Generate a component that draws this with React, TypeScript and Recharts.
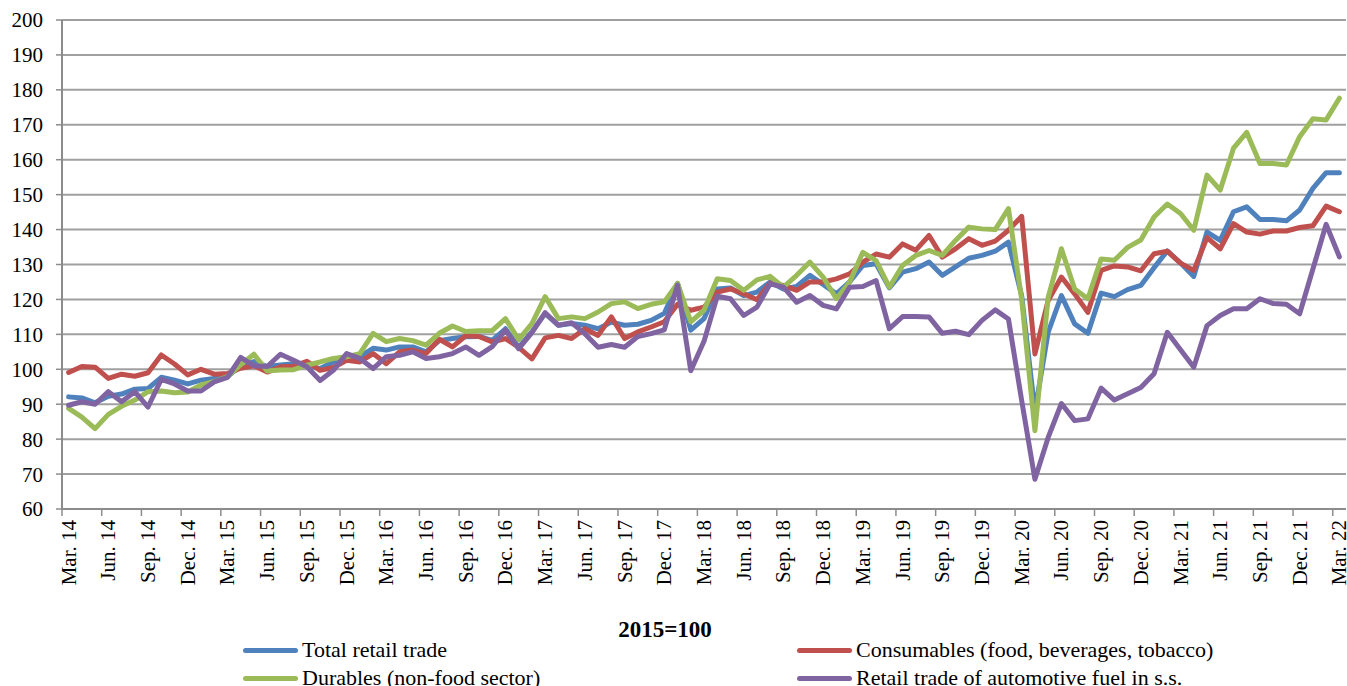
import React from "react"
import { CartesianGrid, Line, LineChart, XAxis, YAxis } from "recharts"

// monthly index, Mar 2014 .. Mar 2022 (97 months)
const total = [
  92.1, 91.8, 90.4, 92.3, 92.9, 94.3, 94.5, 97.7, 96.9, 95.8, 96.9, 97.4, 97.9,
  101, 102.2, 100.8, 101.2, 101.6, 101.2, 100.2, 102.1, 103.1, 103.6, 106, 105.5,
  106.4, 106.4, 105, 108.2, 108.8, 109.3, 109.4, 108.3, 111.6, 106.3, 110.7, 116,
  112.6, 113.1, 112.6, 111.6, 113.5, 112.6, 112.9, 114, 116, 124.6, 111.2, 114.5,
  123, 123.3, 121.1, 122.1, 125, 123, 123.7, 126.9, 124.3, 121.6, 125, 129.7,
  130.2, 123.3, 127.8, 128.8, 130.7, 126.9, 129.3, 131.8, 132.6, 133.8, 136.4,
  121, 88, 110.6, 121.1, 113, 110.3, 121.8, 120.8, 122.8, 124, 129.1, 133.9,
  130.4, 126.6, 139.3, 136.9, 145.1, 146.5, 142.9, 142.9, 142.5, 145.6, 151.8,
  156.3, 156.3,
]

const consumables = [
  99.1, 100.8, 100.6, 97.4, 98.6, 98, 99, 104.1, 101.5, 98.4, 100, 98.6, 98.8,
  100.3, 101, 99.2, 100.7, 100.9, 102.3, 99.7, 100.5, 102.6, 102.1, 104.5, 101.6,
  105, 105.5, 104.5, 108.6, 106.4, 109.6, 109.4, 107.8, 108.8, 106.3, 103, 109,
  109.7, 108.8, 111.6, 109.7, 115, 108.8, 110.7, 112.1, 113.6, 118.6, 116.9,
  117.8, 122.1, 123, 121.6, 119.9, 124.7, 124, 122.6, 125, 125, 125.9, 127.3,
  130.7, 133, 132.1, 135.9, 134.1, 138.3, 132.1, 134.5, 137.4, 135.5, 136.7,
  139.8, 143.8, 104.4, 119.7, 126.4, 121.6, 116.3, 128.3, 129.6, 129.3, 128.2,
  133.1, 133.8, 130.4, 128.3, 137.7, 134.5, 141.7, 139.3, 138.7, 139.6, 139.6,
  140.6, 141.1, 146.7, 145.1,
]

const durables = [
  88.8, 86.3, 83, 87.1, 89.4, 91.2, 93.6, 93.8, 93.3, 93.5, 95.5, 96.5, 97.9,
  101.3, 104.3, 99.5, 99.8, 99.9, 101.2, 102.1, 103.1, 103.6, 104.5, 110.3, 107.9,
  108.8, 108.2, 106.9, 110.3, 112.4, 110.8, 111, 111.1, 114.5, 108.5, 113.1,
  120.8, 114.5, 115, 114.5, 116.4, 118.8, 119.3, 117.4, 118.6, 119.3, 124.6,
  113.6, 116.9, 125.9, 125.4, 122.6, 125.6, 126.6, 123.5, 126.9, 130.7, 126.4,
  120.2, 125, 133.5, 131.1, 123.5, 129.7, 132.6, 134, 132.6, 136.9, 140.7, 140.2,
  140, 146, 120, 82.4, 120.6, 134.5, 123, 120.2, 131.6, 131.2, 134.9, 137, 143.6,
  147.3, 144.6, 139.8, 155.6, 151.3, 163.3, 167.8, 158.9, 158.9, 158.5, 166.6,
  171.7, 171.4, 177.6,
]

const fuel = [
  89.7, 90.7, 90, 93.6, 90.7, 93.6, 89.2, 97.1, 95.8, 93.8, 93.8, 96.4, 97.7,
  103.4, 101, 100.8, 104.3, 102.6, 100.7, 96.8, 99.7, 104.5, 103.1, 100.2, 103.6,
  104, 105, 103.1, 103.6, 104.5, 106.4, 104, 106.5, 111.2, 105.9, 110.5, 116.2,
  112.6, 113.3, 110.2, 106.3, 107.1, 106.3, 109.4, 110.2, 111.3, 124.1, 99.6, 108,
  120.9, 120.2, 115.4, 117.8, 124.5, 123.5, 119.2, 121.1, 118.3, 117.3, 123.5,
  123.7, 125.4, 111.6, 115.1, 115.1, 115, 110.3, 110.9, 109.9, 114, 117, 114.4,
  91, 68.5, 80.5, 90.2, 85.3, 85.8, 94.6, 91.2, 93, 94.8, 98.7, 110.6, 105.6,
  100.6, 112.5, 115.4, 117.3, 117.3, 120.2, 118.8, 118.6, 115.9, 128.7, 141.5,
  132.2,
]

const tickLabels = [
  "Mar. 14", "Jun. 14", "Sep. 14", "Dec. 14",
  "Mar. 15", "Jun. 15", "Sep. 15", "Dec. 15",
  "Mar. 16", "Jun. 16", "Sep. 16", "Dec. 16",
  "Mar. 17", "Jun. 17", "Sep. 17", "Dec. 17",
  "Mar. 18", "Jun. 18", "Sep. 18", "Dec. 18",
  "Mar. 19", "Jun. 19", "Sep. 19", "Dec. 19",
  "Mar. 20", "Jun. 20", "Sep. 20", "Dec. 20",
  "Mar. 21", "Jun. 21", "Sep. 21", "Dec. 21",
  "Mar. 22",
]

const yTicks = [60, 70, 80, 90, 100, 110, 120, 130, 140, 150, 160, 170, 180, 190, 200]

const series = [
  { key: "total", name: "Total retail trade", color: "#4F81BD" },
  { key: "consumables", name: "Consumables (food, beverages, tobacco)", color: "#C0504D" },
  { key: "durables", name: "Durables (non-food sector)", color: "#9BBB59" },
  { key: "fuel", name: "Retail trade of automotive fuel in s.s.", color: "#8064A2" },
]

const FONT = "'Liberation Serif', 'Times New Roman', serif"
const WIDTH = 1347
const PLOT_LEFT = 62
const MARGIN_RIGHT = 1
const HALF_BAND = (WIDTH - PLOT_LEFT - MARGIN_RIGHT) / total.length / 2

const data = total.map((v, i) => ({
  i,
  total: v,
  consumables: consumables[i],
  durables: durables[i],
  fuel: fuel[i],
}))

function MonthTick(props: any) {
  const { x, y, payload } = props
  const label = tickLabels[Math.round(payload.value / 3)]
  const ty = y + 11
  return (
    <g>
      <line x1={x - HALF_BAND} y1={y} x2={x - HALF_BAND} y2={y + 7} stroke="#8c8c8c" strokeWidth={1.5} />
      <text
        x={x}
        y={ty}
        transform={`rotate(-90 ${x} ${ty})`}
        textAnchor="end"
        dominantBaseline="central"
        fontFamily={FONT}
        fontSize={21}
        fill="#000"
      >
        {label}
      </text>
    </g>
  )
}

export default function App() {
  return (
    <div style={{ position: "absolute", left: 0, top: 0, width: WIDTH, height: 686, background: "#fff" }}>
      <LineChart
        width={WIDTH}
        height={600}
        data={data}
        margin={{ top: 20, right: MARGIN_RIGHT, left: 0, bottom: 0 }}
      >
        <CartesianGrid vertical={false} stroke="#a0a0a0" strokeWidth={2} />
        <XAxis
          dataKey="i"
          type="number"
          domain={[-0.5, 96.5]}
          ticks={tickLabels.map((_, k) => k * 3)}
          interval={0}
          tick={<MonthTick />}
          tickLine={false}
          tickSize={0}
          tickMargin={0}
          height={91}
          axisLine={{ stroke: "#8c8c8c", strokeWidth: 2 }}
          allowDataOverflow
        />
        <YAxis
          type="number"
          domain={[60, 200]}
          ticks={yTicks}
          interval={0}
          width={PLOT_LEFT}
          tickSize={6}
          tickMargin={13}
          tickLine={{ stroke: "#8c8c8c", strokeWidth: 1.5 }}
          axisLine={{ stroke: "#8c8c8c", strokeWidth: 2 }}
          tick={{ fontFamily: FONT, fontSize: 21, fill: "#000" }}
        />
        {series.map((s) => (
          <Line
            key={s.key}
            type="linear"
            dataKey={s.key}
            name={s.name}
            stroke={s.color}
            strokeWidth={5}
            strokeLinejoin="round"
            strokeLinecap="round"
            dot={false}
            activeDot={false}
            isAnimationActive={false}
          />
        ))}
      </LineChart>

      <div
        style={{
          position: "absolute",
          left: 0,
          width: 1330,
          top: 617,
          textAlign: "center",
          fontFamily: FONT,
          fontWeight: "bold",
          fontSize: 23,
          lineHeight: "26px",
        }}
      >
        2015=100
      </div>

      {series.map((s, idx) => {
        const col = idx % 2
        const row = Math.floor(idx / 2)
        return (
          <div
            key={s.key}
            style={{
              position: "absolute",
              left: col === 0 ? 243 : 797,
              top: 636 + row * 28,
              height: 28,
              display: "flex",
              alignItems: "center",
              fontFamily: FONT,
              fontSize: 22,
              whiteSpace: "nowrap",
            }}
          >
            <span
              style={{
                display: "inline-block",
                width: 55,
                height: 5,
                borderRadius: 3,
                background: s.color,
                marginRight: 4,
              }}
            />
            {s.name}
          </div>
        )
      })}
    </div>
  )
}
